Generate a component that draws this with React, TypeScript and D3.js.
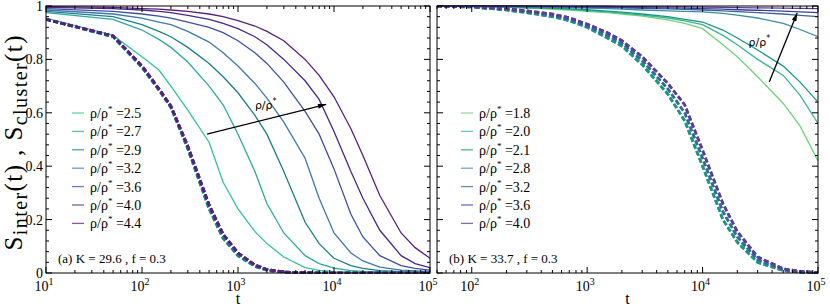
import React, { useEffect, useRef } from "react";
import * as d3 from "d3";

// time grids (t)
const timesA = [10, 50, 100, 150, 200, 300, 500, 700, 1000, 1500, 2000, 3000, 5000, 7000, 10000, 15000, 20000, 30000, 50000, 70000, 100000];
const timesB = [50, 100, 200, 300, 500, 700, 1000, 1500, 2000, 3000, 5000, 7000, 10000, 15000, 20000, 30000, 50000, 70000, 100000];

// panel (a): K = 29.6
const densA = ["2.5", "2.7", "2.9", "3.2", "3.6", "4.0", "4.4"];
const interA = [
  [0.955, 0.89, 0.81, 0.76, 0.7, 0.61, 0.49, 0.34, 0.24, 0.155, 0.11, 0.06, 0.02, 0.01, 0.005, 0.003, 0.002, 0.001, 0, 0, 0],
  [0.975, 0.95, 0.91, 0.875, 0.845, 0.79, 0.7, 0.63, 0.52, 0.38, 0.26, 0.15, 0.065, 0.035, 0.018, 0.009, 0.006, 0.004, 0.002, 0.001, 0.001],
  [0.98, 0.96, 0.93, 0.905, 0.885, 0.845, 0.785, 0.735, 0.675, 0.59, 0.52, 0.38, 0.19, 0.11, 0.055, 0.028, 0.017, 0.009, 0.005, 0.004, 0.003],
  [0.985, 0.97, 0.955, 0.94, 0.93, 0.905, 0.865, 0.825, 0.775, 0.71, 0.655, 0.565, 0.43, 0.28, 0.15, 0.075, 0.045, 0.022, 0.011, 0.008, 0.006],
  [0.99, 0.98, 0.97, 0.962, 0.955, 0.94, 0.92, 0.9, 0.87, 0.825, 0.785, 0.715, 0.605, 0.52, 0.39, 0.22, 0.135, 0.065, 0.028, 0.017, 0.011],
  [0.995, 0.99, 0.985, 0.98, 0.975, 0.965, 0.95, 0.935, 0.915, 0.885, 0.855, 0.8, 0.72, 0.65, 0.53, 0.38, 0.28, 0.16, 0.065, 0.035, 0.02],
  [0.998, 0.995, 0.99, 0.988, 0.985, 0.98, 0.97, 0.96, 0.945, 0.925, 0.905, 0.87, 0.8, 0.74, 0.66, 0.54, 0.44, 0.29, 0.15, 0.095, 0.055],
];
const clusterA = [
  [0.95, 0.885, 0.77, 0.685, 0.62, 0.465, 0.24, 0.13, 0.065, 0.025, 0.01, 0.003, 0.001, 0, 0, 0, 0, 0, 0, 0, 0],
  [0.95, 0.888, 0.775, 0.69, 0.625, 0.475, 0.255, 0.145, 0.075, 0.03, 0.013, 0.004, 0.001, 0, 0, 0, 0, 0, 0, 0, 0],
];
const clusterPickA = [0, 0, 0, 1, 1, 1, 1];
const colorsA = ["#34c29c", "#2fa89e", "#1d7d8e", "#3f78aa", "#3e51a0", "#46298b", "#5c1f7b"];

// panel (b): K = 33.7
const densB = ["1.8", "2.0", "2.1", "2.8", "3.2", "3.6", "4.0"];
const interB = [
  [1.0, 0.998, 0.995, 0.992, 0.988, 0.985, 0.98, 0.975, 0.97, 0.962, 0.948, 0.935, 0.915, 0.855, 0.81, 0.735, 0.635, 0.55, 0.42],
  [1.0, 0.998, 0.996, 0.993, 0.99, 0.987, 0.983, 0.978, 0.973, 0.966, 0.955, 0.944, 0.93, 0.89, 0.855, 0.8, 0.74, 0.665, 0.56],
  [1.0, 0.999, 0.997, 0.995, 0.992, 0.989, 0.986, 0.981, 0.977, 0.97, 0.96, 0.95, 0.94, 0.91, 0.88, 0.835, 0.775, 0.715, 0.64],
  [1.0, 1.0, 0.998, 0.997, 0.995, 0.994, 0.992, 0.99, 0.988, 0.985, 0.982, 0.98, 0.978, 0.972, 0.966, 0.955, 0.935, 0.912, 0.885],
  [1.0, 1.0, 0.999, 0.998, 0.997, 0.996, 0.995, 0.994, 0.993, 0.991, 0.989, 0.987, 0.985, 0.982, 0.979, 0.975, 0.97, 0.965, 0.96],
  [1.0, 1.0, 1.0, 0.999, 0.998, 0.998, 0.997, 0.996, 0.995, 0.994, 0.993, 0.992, 0.99, 0.988, 0.986, 0.984, 0.981, 0.978, 0.975],
  [1.0, 1.0, 1.0, 1.0, 1.0, 0.999, 0.999, 0.999, 0.998, 0.998, 0.997, 0.997, 0.996, 0.995, 0.994, 0.993, 0.992, 0.991, 0.99],
];
const clusterB = [
  [1.0, 0.996, 0.985, 0.975, 0.96, 0.945, 0.92, 0.88, 0.85, 0.78, 0.67, 0.57, 0.4, 0.2, 0.115, 0.04, 0.009, 0.003, 0],
  [1.0, 0.997, 0.987, 0.978, 0.965, 0.95, 0.925, 0.89, 0.86, 0.795, 0.69, 0.6, 0.43, 0.23, 0.135, 0.05, 0.012, 0.004, 0.001],
  [1.0, 0.998, 0.99, 0.982, 0.97, 0.956, 0.932, 0.9, 0.87, 0.81, 0.71, 0.63, 0.46, 0.26, 0.155, 0.06, 0.016, 0.006, 0.002],
];
const clusterPickB = [0, 0, 0, 1, 1, 2, 2];
const colorsB = ["#72d27a", "#3db68c", "#16968b", "#3a8ea6", "#3b659c", "#3a3f9a", "#5a3e9a"];

const yTicks = [0, 0.2, 0.4, 0.6, 0.8, 1];
const yTickLabels = ["0", "0.2", "0.4", "0.6", "0.8", "1"];

// annotation arrows in data space: [t0, s0, t1, s1]
const arrowA = [475, 0.52, 8300, 0.632];
const arrowB = [37800, 0.715, 66000, 0.974];

const FONT = "'Liberation Serif', 'Times New Roman', serif";

const App = () => {
  const svgRef = useRef(null);

  useEffect(() => {
    const svg = d3.select(svgRef.current);
    svg.selectAll("*").remove();

    const top = 6;
    const bottom = 273;

    svg
      .append("defs")
      .append("marker")
      .attr("id", "arrowhead")
      .attr("viewBox", "0 0 10 6")
      .attr("refX", 10)
      .attr("refY", 3)
      .attr("markerWidth", 9)
      .attr("markerHeight", 5)
      .attr("markerUnits", "userSpaceOnUse")
      .attr("orient", "auto")
      .append("path")
      .attr("d", "M0,0 L10,3 L0,6 Z")
      .attr("fill", "#000");

    const drawPanel = (cfg) => {
      const { x0, x1, domain, times, inter, cluster, pick, colors, dens, label, arrow, arrowLabel, legendX, yLabels } = cfg;
      const x = d3.scaleLog().domain(domain).range([x0, x1]);
      const y = d3.scaleLinear().domain([0, 1]).range([bottom, top]);
      const g = svg.append("g");

      const clipId = "clip" + x0;
      svg
        .select("defs")
        .append("clipPath")
        .attr("id", clipId)
        .append("rect")
        .attr("x", x0)
        .attr("y", top - 1)
        .attr("width", x1 - x0)
        .attr("height", bottom - top + 2);

      const plot = g.append("g").attr("clip-path", `url(#${clipId})`);
      const line = d3
        .line()
        .x((d) => x(d[0]))
        .y((d) => y(d[1]));

      inter.forEach((vals, i) => {
        plot
          .append("path")
          .attr("d", line(times.map((t, j) => [t, vals[j]])))
          .attr("fill", "none")
          .attr("stroke", colors[i])
          .attr("stroke-width", 1.3);
      });
      pick.forEach((p, i) => {
        plot
          .append("path")
          .attr("d", line(times.map((t, j) => [t, cluster[p][j]])))
          .attr("fill", "none")
          .attr("stroke", colors[i])
          .attr("stroke-width", 2.6)
          .attr("stroke-dasharray", "5,2.5");
      });

      // frame
      g.append("rect")
        .attr("x", x0)
        .attr("y", top)
        .attr("width", x1 - x0)
        .attr("height", bottom - top)
        .attr("fill", "none")
        .attr("stroke", "#000")
        .attr("stroke-width", 1);

      // x ticks
      const xt = x.ticks();
      xt.forEach((t) => {
        const major = Math.abs(Math.log10(t) - Math.round(Math.log10(t))) < 1e-9;
        const len = major ? 6 : 3;
        const px = x(t);
        g.append("line").attr("x1", px).attr("x2", px).attr("y1", bottom).attr("y2", bottom - len).attr("stroke", "#000");
        g.append("line").attr("x1", px).attr("x2", px).attr("y1", top).attr("y2", top + len).attr("stroke", "#000");
        if (major) {
          const txt = g
            .append("text")
            .attr("x", px - 2)
            .attr("y", 291)
            .attr("text-anchor", "middle")
            .attr("font-family", FONT)
            .attr("font-size", 14);
          txt.append("tspan").text("10");
          txt.append("tspan").attr("dy", -6).attr("font-size", 10).text(String(Math.round(Math.log10(t))));
        }
      });

      // y ticks
      d3.range(0, 26).forEach((k) => {
        const v = k * 0.04;
        const major = k % 5 === 0;
        const len = major ? 6 : 3;
        const py = y(v);
        g.append("line").attr("x1", x0).attr("x2", x0 + len).attr("y1", py).attr("y2", py).attr("stroke", "#000");
        g.append("line").attr("x1", x1).attr("x2", x1 - len).attr("y1", py).attr("y2", py).attr("stroke", "#000");
      });
      if (yLabels) {
        yTicks.forEach((v, i) => {
          g.append("text")
            .attr("x", x0 - 3)
            .attr("y", y(v))
            .attr("dy", "0.35em")
            .attr("text-anchor", "end")
            .attr("font-family", FONT)
            .attr("font-size", 14)
            .text(yTickLabels[i]);
        });
      }

      // axis title t
      g.append("text")
        .attr("x", (x0 + x1) / 2)
        .attr("y", 304)
        .attr("text-anchor", "middle")
        .attr("font-family", FONT)
        .attr("font-size", 16)
        .text("t");

      // legend
      dens.forEach((d, i) => {
        const ly = 113 + i * 18.4;
        g.append("line")
          .attr("x1", legendX)
          .attr("x2", legendX + 12)
          .attr("y1", ly)
          .attr("y2", ly)
          .attr("stroke", colors[i])
          .attr("stroke-opacity", 0.75)
          .attr("stroke-width", 1.3);
        const txt = g
          .append("text")
          .attr("x", legendX + 18)
          .attr("y", ly + 5)
          .attr("font-family", FONT)
          .attr("font-size", 14);
        txt.append("tspan").text("ρ/ρ");
        txt.append("tspan").attr("dy", -6).attr("font-size", 9).text("*");
        txt.append("tspan").attr("dy", 6).text(" =" + d);
      });

      // panel label
      g.append("text")
        .attr("x", x0 + 12)
        .attr("y", 263)
        .attr("font-family", FONT)
        .attr("font-size", 13)
        .text(label);

      // arrow
      g.append("line")
        .attr("x1", x(arrow[0]))
        .attr("y1", y(arrow[1]))
        .attr("x2", x(arrow[2]))
        .attr("y2", y(arrow[3]))
        .attr("stroke", "#000")
        .attr("stroke-width", 1.3)
        .attr("marker-end", "url(#arrowhead)");
      const al = g
        .append("text")
        .attr("x", x(arrowLabel[0]))
        .attr("y", y(arrowLabel[1]))
        .attr("font-family", "'DejaVu Sans', sans-serif")
        .attr("font-size", 11);
      al.append("tspan").text("ρ/ρ");
      al.append("tspan").attr("dy", -5).attr("font-size", 8).text("*");
    };

    drawPanel({
      x0: 46,
      x1: 430,
      domain: [10, 100000],
      times: timesA,
      inter: interA,
      cluster: clusterA,
      pick: clusterPickA,
      colors: colorsA,
      dens: densA,
      label: "(a) K = 29.6 , f = 0.3",
      arrow: arrowA,
      arrowLabel: [1500, 0.615],
      legendX: 72,
      yLabels: true,
    });
    drawPanel({
      x0: 437,
      x1: 818,
      domain: [50, 100000],
      times: timesB,
      inter: interB,
      cluster: clusterB,
      pick: clusterPickB,
      colors: colorsB,
      dens: densB,
      label: "(b) K = 33.7 , f = 0.3",
      arrow: arrowB,
      arrowLabel: [25000, 0.85],
      legendX: 461,
      yLabels: false,
    });

    // y axis title
    const yl = svg
      .append("text")
      .attr("transform", "translate(22,143) rotate(-90)")
      .attr("text-anchor", "middle")
      .attr("font-family", FONT)
      .attr("font-size", 25)
      .attr("textLength", 215)
      .attr("lengthAdjust", "spacing");
    yl.append("tspan").text("S");
    yl.append("tspan").attr("dy", 5).attr("font-size", 20).text("inter");
    yl.append("tspan").attr("dy", -5).text("(t) , S");
    yl.append("tspan").attr("dy", 5).attr("font-size", 20).text("cluster");
    yl.append("tspan").attr("dy", -5).text("(t)");
  }, []);

  return (
    <svg
      ref={svgRef}
      width={830}
      height={306}
      style={{ position: "absolute", left: 0, top: 0, background: "#fff" }}
    />
  );
};

export default App;
